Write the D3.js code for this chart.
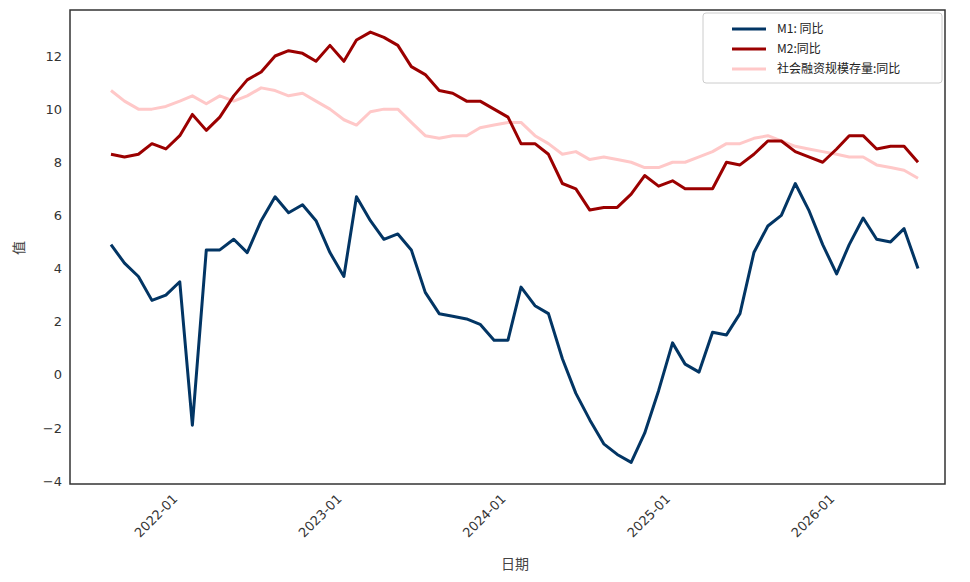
<!DOCTYPE html>
<html><head><meta charset="utf-8">
<script src="https://cdn.jsdelivr.net/npm/d3@7"></script>
<style>body{margin:0;background:#fff}</style></head>
<body><svg id="c" width="970" height="582"></svg>
<script>
const startMonth = "2021-09";
const m1 = [4.9,4.2,3.7,2.8,3.0,3.5,-1.9,4.7,4.7,5.1,4.6,5.8,6.7,6.1,6.4,5.8,4.6,3.7,6.7,5.8,5.1,5.3,4.7,3.1,2.3,2.2,2.1,1.9,1.3,1.3,3.3,2.6,2.3,0.6,-0.7,-1.7,-2.6,-3.0,-3.3,-2.2,-0.6,1.2,0.4,0.1,1.6,1.5,2.3,4.6,5.6,6.0,7.2,6.2,4.9,3.8,4.9,5.9,5.1,5.0,5.5,4.0];
const m2 = [8.3,8.2,8.3,8.7,8.5,9.0,9.8,9.2,9.7,10.5,11.1,11.4,12.0,12.2,12.1,11.8,12.4,11.8,12.6,12.9,12.7,12.4,11.6,11.3,10.7,10.6,10.3,10.3,10.0,9.7,8.7,8.7,8.3,7.2,7.0,6.2,6.3,6.3,6.8,7.5,7.1,7.3,7.0,7.0,7.0,8.0,7.9,8.3,8.8,8.8,8.4,8.2,8.0,8.5,9.0,9.0,8.5,8.6,8.6,8.0];
const tsf = [10.7,10.3,10.0,10.0,10.1,10.3,10.5,10.2,10.5,10.3,10.5,10.8,10.7,10.5,10.6,10.3,10.0,9.6,9.4,9.9,10.0,10.0,9.5,9.0,8.9,9.0,9.0,9.3,9.4,9.5,9.5,9.0,8.7,8.3,8.4,8.1,8.2,8.1,8.0,7.8,7.8,8.0,8.0,8.2,8.4,8.7,8.7,8.9,9.0,8.8,8.6,8.5,8.4,8.3,8.2,8.2,7.9,7.8,7.7,7.4];
const seriesNames = ["M1:  同比","M2:同比","社会融资规模存量:同比"];
const colors = ["#023564","#9b0000","#ffc8c8"];
const yTicks = [-4,-2,0,2,4,6,8,10,12];

const [sy,sm] = startMonth.split("-").map(Number);
const dates = m1.map((_,i)=>new Date(sy, sm-1+i, 1));
const svg = d3.select("#c");
const L=70,R=945,T=10,B=484;
const x = d3.scaleTime().domain([dates[0], dates[dates.length-1]]).range([111,918]);
const y = d3.scaleLinear().domain([-4,12]).range([481,56]);

const xt = [2022,2023,2024,2025,2026].map(yy=>new Date(yy,0,1));
const gx = svg.append("g").attr("transform",`translate(0,${B})`)
  .call(d3.axisBottom(x).tickValues(xt).tickFormat(d3.timeFormat("%Y-%m")).tickSize(0).tickPadding(8));
gx.selectAll("text").attr("transform","rotate(-45)").attr("text-anchor","end").attr("dx","-0.2em").attr("dy","0.9em")
  .style("font-family","'DejaVu Sans',sans-serif").style("font-size","13px").attr("fill","#333");
gx.select(".domain").remove();
const gy = svg.append("g").attr("transform",`translate(${L},0)`)
  .call(d3.axisLeft(y).tickValues(yTicks).tickFormat(d=>d<0?"\u2212"+(-d):d).tickSize(0).tickPadding(8));
gy.selectAll("text").style("font-family","'DejaVu Sans',sans-serif").style("font-size","13px").attr("fill","#333");
gy.select(".domain").remove();

const line = d3.line().x((d,i)=>x(dates[i])).y(d=>y(d));
[m1,m2,tsf].forEach((s,k)=>{ const idx=[2,0,1][k]; });
[tsf,m2,m1].forEach((s,k)=>{
  const c = [colors[2],colors[1],colors[0]][k];
  svg.append("path").datum(s).attr("d",line).attr("fill","none").attr("stroke",c).attr("stroke-width",3).attr("stroke-linejoin","round");
});
svg.append("rect").attr("x",L).attr("y",T).attr("width",R-L).attr("height",B-T).attr("fill","none").attr("stroke","#333").attr("stroke-width",1.5);

const lg = svg.append("g");
lg.append("rect").attr("x",703).attr("y",13).attr("width",239).attr("height",70).attr("fill","#fff").attr("stroke","#ccc").attr("rx",3);
seriesNames.forEach((n,i)=>{
  const yy = 29+i*20;
  lg.append("line").attr("x1",732).attr("x2",766).attr("y1",yy).attr("y2",yy).attr("stroke",colors[i]).attr("stroke-width",3);
  lg.append("text").attr("x",777).attr("y",yy+4).text(n).style("font-family","'Noto Sans CJK SC',serif").style("font-size","12px").attr("fill","#222");
});
svg.append("text").attr("x",515).attr("y",569).attr("text-anchor","middle").text("日期")
  .style("font-family","'Noto Sans CJK SC'").style("font-size","14px").attr("fill","#444");
svg.append("text").attr("transform","translate(24,248) rotate(-90)").attr("text-anchor","middle").text("值")
  .style("font-family","'Noto Sans CJK SC'").style("font-size","14px").attr("fill","#444");
</script></body></html>
